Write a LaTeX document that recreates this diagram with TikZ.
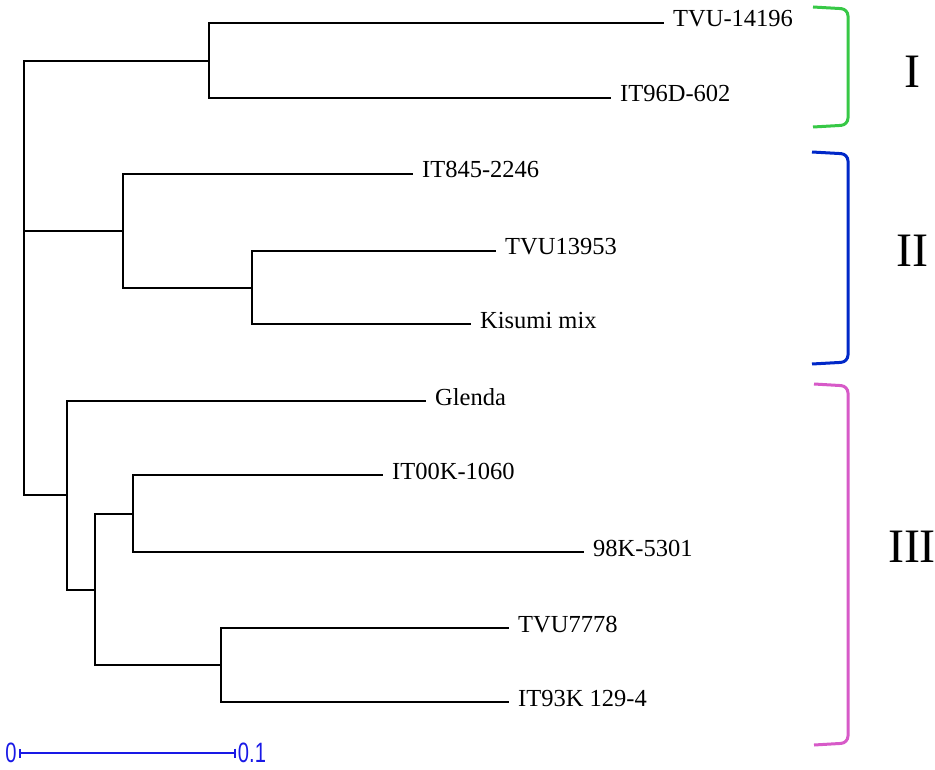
\documentclass[tikz,border=0pt]{standalone}
\usepackage{fontspec}
\setmainfont{Liberation Serif}
\newfontfamily\barfont{Liberation Sans}
\usetikzlibrary{arrows.meta}

\definecolor{cladeI}{RGB}{55,200,70}
\definecolor{cladeII}{RGB}{0,40,200}
\definecolor{cladeIII}{RGB}{215,90,200}
\definecolor{barblue}{RGB}{25,25,230}

\tikzset{
  leaf/.style={anchor=west, inner xsep=10pt, inner ysep=0pt, text height=10pt, text depth=2pt,
    font=\fontsize{24.5}{24.5}\selectfont},
  branch/.style={line width=1.9pt, line cap=rect},
  bracket/.style={line width=3pt, rounded corners=7pt},
  clade/.style={font=\fontsize{48}{48}\selectfont},
  barlabel/.style={barblue, xscale=0.72, inner xsep=3pt, font=\barfont\fontsize{28}{28}\selectfont},
}

\begin{document}
\begin{tikzpicture}[x=1pt, y=-1pt]
      \useasboundingbox (0,0) rectangle (935,770);
      % inner nodes
      \coordinate (root) at (24, 278);
      \coordinate (nI)   at (209, 61);
      \coordinate (nII)  at (123, 231);
      \coordinate (nIIb) at (252, 288);
      \coordinate (nIII) at (67, 495);
      \coordinate (nIIIb) at (95, 590);
      \coordinate (nIIIc) at (133, 514);
      \coordinate (nIIId) at (221, 665);
      % leaves
      \node[leaf] at (663, 23)  (tvu14196) {TVU-14196};
      \node[leaf] at (610, 98)  (it96d)    {IT96D-602};
      \node[leaf] at (412, 174) (it845)    {IT845-2246};
      \node[leaf] at (495, 251) (tvu13953) {TVU13953};
      \node[leaf] at (470, 324) (kisumi)   {Kisumi mix};
      \node[leaf] at (425, 401) (glenda)   {Glenda};
      \node[leaf] at (382, 475) (it00k)    {IT00K-1060};
      \node[leaf] at (583, 552) (k5301)    {98K-5301};
      \node[leaf] at (508, 628) (tvu7778)  {TVU7778};
      \node[leaf] at (508, 702) (it93k)    {IT93K 129-4};
      % tree
      \draw[branch] (root) |- (nI);
      \draw[branch] (root) |- (nII);
      \draw[branch] (root) |- (nIII);
      \draw[branch] (nI) |- (tvu14196);
      \draw[branch] (nI) |- (it96d);
      \draw[branch] (nII) |- (it845);
      \draw[branch] (nII) |- (nIIb);
      \draw[branch] (nIIb) |- (tvu13953);
      \draw[branch] (nIIb) |- (kisumi);
      \draw[branch] (nIII) |- (glenda);
      \draw[branch] (nIII) |- (nIIIb);
      \draw[branch] (nIIIb) |- (nIIIc);
      \draw[branch] (nIIIb) |- (nIIId);
      \draw[branch] (nIIIc) |- (it00k);
      \draw[branch] (nIIIc) |- (k5301);
      \draw[branch] (nIIId) |- (tvu7778);
      \draw[branch] (nIIId) |- (it93k);
      % clades
      \draw[bracket, cladeI]   (813, 7)   -- (848, 9)   -- (848, 125) -- (813, 127);
      \draw[bracket, cladeII]  (812, 152) -- (848, 154) -- (848, 362) -- (812, 364);
      \draw[bracket, cladeIII] (814, 384) -- (848, 386) -- (848, 743) -- (814, 745);
      \node[clade] at (912, 72)  (labI)   {I};
      \node[clade] at (912, 251) (labII)  {II};
      \node[clade] at (912, 547) (labIII) {III};
      % scale bar
      \node[barlabel] at (11, 753)  (s0) {0};
      \node[barlabel] at (252, 753) (s1) {0.1};
      \draw[barblue, line width=1.6pt, {Bar[width=9pt]}-{Bar[width=9pt]}] (s0.east) -- (s1.west);
\end{tikzpicture}
\end{document}
